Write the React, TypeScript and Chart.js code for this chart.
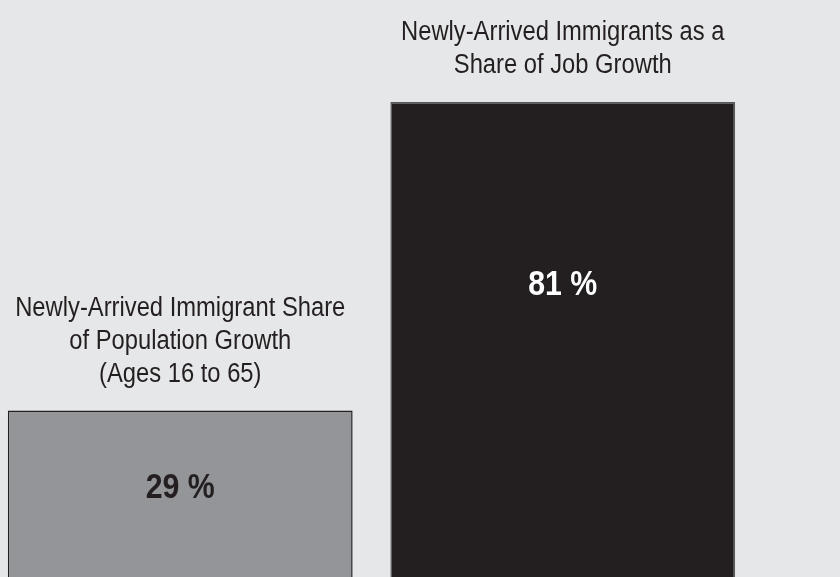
import React, { useEffect, useRef } from "react";
import { Chart, registerables } from "chart.js";

Chart.register(...registerables);

const categories = ["Population Growth", "Job Growth"];
const shareValues = [29, 81];
const barTitles = [
  ["Newly-Arrived Immigrant Share", "of Population Growth", "(Ages 16 to 65)"],
  ["Newly-Arrived Immigrants as a", "Share of Job Growth"],
];
const valueLabels = ["29 %", "81 %"];

const FONT = '"Liberation Sans", Arial, sans-serif';

function drawNarrow(ctx: any, text: string, x: number, y: number, sx: number) {
  ctx.save();
  ctx.translate(x, y);
  ctx.scale(sx, 1);
  ctx.fillText(text, 0, 0);
  ctx.restore();
}

const labelPlugin = {
  id: "barLabels",
  beforeDraw(chart: any) {
    const ctx = chart.ctx;
    ctx.save();
    ctx.fillStyle = "#e6e7e8";
    ctx.fillRect(0, 0, chart.width, chart.height);
    ctx.restore();
  },
  afterDatasetsDraw(chart: any) {
    const ctx = chart.ctx;
    const meta = chart.getDatasetMeta(0);
    const valueOffsets = [78, 183];
    const valueColors = ["#231f20", "#ffffff"];
    ctx.save();
    meta.data.forEach((bar: any, i: number) => {
      const lines = barTitles[i];
      ctx.font = `27px ${FONT}`;
      ctx.fillStyle = "#231f20";
      ctx.textAlign = "center";
      ctx.textBaseline = "alphabetic";
      const lastBase = bar.y - 29;
      lines.forEach((ln, j) => {
        drawNarrow(ctx, ln, bar.x, lastBase - (lines.length - 1 - j) * 33, 0.88);
      });
      ctx.font = `bold 35px ${FONT}`;
      ctx.fillStyle = valueColors[i];
      ctx.textBaseline = "middle";
      drawNarrow(ctx, valueLabels[i], bar.x, bar.y + valueOffsets[i], 0.865);
    });
    ctx.restore();
  },
};

export default function App() {
  const ref = useRef<HTMLCanvasElement | null>(null);
  useEffect(() => {
    document.body.style.margin = "0";
    const chart = new Chart(ref.current!, {
      type: "bar",
      data: {
        labels: categories,
        datasets: [
          {
            data: shareValues,
            backgroundColor: ["#939598", "#231f20"],
            borderColor: ["#231f20", "#58595b"],
            borderWidth: 1.5,
            barPercentage: 0.9014,
            categoryPercentage: 1,
          },
        ],
      },
      options: {
        animation: false,
        responsive: false,
        maintainAspectRatio: false,
        layout: { padding: { left: 0, right: 86, top: 0, bottom: 0 } },
        plugins: { legend: { display: false }, tooltip: { enabled: false } },
        scales: {
          x: { display: false },
          y: { display: false, min: 0.94, max: 98.19 },
        },
      },
      plugins: [labelPlugin],
    });
    return () => chart.destroy();
  }, []);
  return (
    <div style={{ position: "fixed", left: 0, top: 0, width: 840, height: 577, overflow: "hidden", background: "#e6e7e8" }}>
      <canvas
        ref={ref}
        width={851}
        height={577}
        style={{ display: "block", position: "absolute", left: -11, top: 0 }}
      />
    </div>
  );
}
